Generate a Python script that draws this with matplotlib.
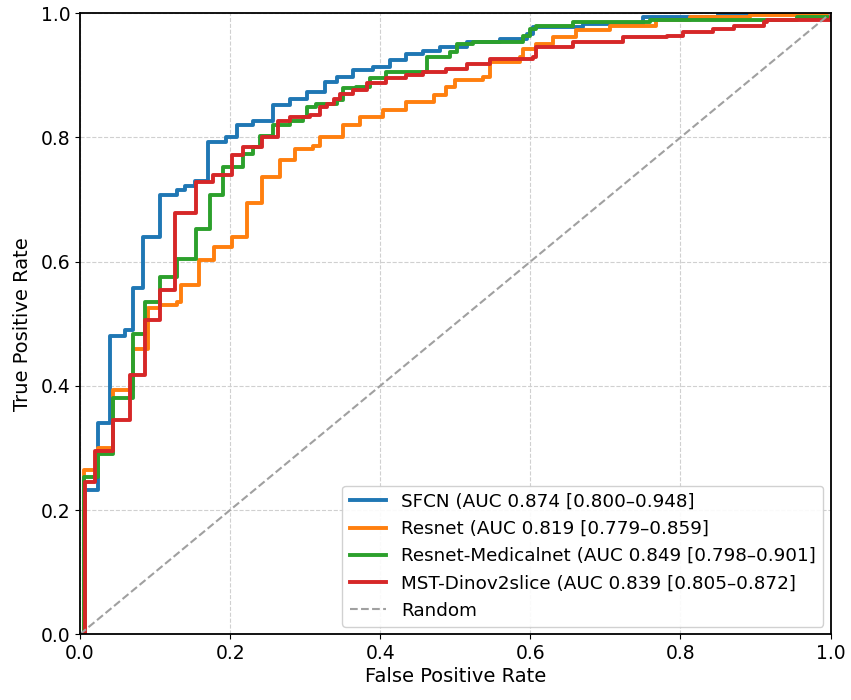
import matplotlib
matplotlib.use("Agg")
import matplotlib.pyplot as plt

sfcn_fpr = [0.0, 0.007, 0.024, 0.04, 0.06, 0.071, 0.084, 0.107, 0.129, 0.14, 0.153, 0.171, 0.195, 0.209, 0.231, 0.257, 0.28, 0.302, 0.326, 0.342, 0.364, 0.39, 0.413, 0.435, 0.457, 0.48, 0.515, 0.559, 0.595, 0.604, 0.67, 0.75, 0.85, 1.0]
sfcn_tpr = [0.0, 0.232, 0.34, 0.48, 0.49, 0.557, 0.64, 0.707, 0.715, 0.722, 0.73, 0.793, 0.80, 0.82, 0.827, 0.852, 0.862, 0.873, 0.889, 0.897, 0.908, 0.913, 0.924, 0.935, 0.94, 0.946, 0.954, 0.959, 0.967, 0.978, 0.982, 0.994, 0.999, 1.0]

resnet_fpr = [0.0, 0.005, 0.024, 0.044, 0.071, 0.091, 0.107, 0.129, 0.135, 0.158, 0.178, 0.202, 0.222, 0.242, 0.266, 0.286, 0.31, 0.32, 0.35, 0.373, 0.404, 0.435, 0.471, 0.488, 0.5, 0.537, 0.546, 0.586, 0.59, 0.608, 0.63, 0.661, 0.706, 0.768, 0.813, 0.893, 1.0]
resnet_tpr = [0.0, 0.265, 0.30, 0.393, 0.46, 0.525, 0.53, 0.535, 0.562, 0.603, 0.624, 0.64, 0.694, 0.737, 0.763, 0.782, 0.787, 0.80, 0.82, 0.833, 0.844, 0.857, 0.869, 0.881, 0.892, 0.897, 0.922, 0.93, 0.943, 0.951, 0.962, 0.973, 0.98, 0.989, 0.994, 0.997, 1.0]

medical_fpr = [0.0, 0.005, 0.024, 0.044, 0.071, 0.087, 0.107, 0.129, 0.155, 0.173, 0.191, 0.217, 0.231, 0.24, 0.257, 0.28, 0.297, 0.302, 0.315, 0.342, 0.35, 0.368, 0.386, 0.408, 0.462, 0.493, 0.502, 0.524, 0.59, 0.6, 0.608, 0.657, 0.76, 0.955, 1.0]
medical_tpr = [0.0, 0.253, 0.29, 0.38, 0.484, 0.535, 0.575, 0.605, 0.653, 0.707, 0.752, 0.774, 0.785, 0.803, 0.82, 0.827, 0.833, 0.849, 0.854, 0.86, 0.879, 0.881, 0.895, 0.906, 0.93, 0.938, 0.951, 0.954, 0.964, 0.975, 0.98, 0.986, 0.99, 0.994, 1.0]

dino_fpr = [0.0, 0.007, 0.02, 0.044, 0.067, 0.087, 0.107, 0.127, 0.155, 0.177, 0.202, 0.217, 0.242, 0.264, 0.28, 0.306, 0.32, 0.329, 0.338, 0.346, 0.364, 0.382, 0.408, 0.435, 0.457, 0.488, 0.515, 0.546, 0.604, 0.608, 0.657, 0.724, 0.782, 0.804, 0.844, 0.871, 0.911, 0.915, 1.0]
dino_tpr = [0.0, 0.245, 0.295, 0.345, 0.417, 0.506, 0.554, 0.678, 0.728, 0.739, 0.771, 0.785, 0.80, 0.827, 0.833, 0.836, 0.849, 0.854, 0.862, 0.87, 0.876, 0.887, 0.895, 0.90, 0.906, 0.911, 0.919, 0.927, 0.93, 0.946, 0.954, 0.962, 0.964, 0.97, 0.975, 0.98, 0.986, 0.99, 1.0]

labels = [
    "SFCN (AUC 0.874 [0.800\u20130.948]",
    "Resnet (AUC 0.819 [0.779\u20130.859]",
    "Resnet-Medicalnet (AUC 0.849 [0.798\u20130.901]",
    "MST-Dinov2slice (AUC 0.839 [0.805\u20130.872]",
]
colors = ["#1f77b4", "#ff7f0e", "#2ca02c", "#d62728"]
series = [(sfcn_fpr, sfcn_tpr), (resnet_fpr, resnet_tpr), (medical_fpr, medical_tpr), (dino_fpr, dino_tpr)]

fig = plt.figure(figsize=(8.51, 7.0), dpi=100)
ax = fig.add_axes([0.094, 0.094, 0.882, 0.887])

for (f, t), lab, c in zip(series, labels, colors):
    ax.plot(f, t, drawstyle="steps-post", color=c, lw=2.8, label=lab)

ax.plot([0, 1], [0, 1], linestyle="--", color="#a0a0a0", lw=1.5, label="Random")

ax.set_xlim(0, 1)
ax.set_ylim(0, 1)
ax.grid(True, linestyle="--", color="#d0d0d0", lw=0.8)
ax.set_axisbelow(True)
ax.tick_params(labelsize=13.5)
ax.set_xlabel("False Positive Rate", fontsize=14, labelpad=3)
ax.set_ylabel("True Positive Rate", fontsize=14, labelpad=6)
for s in ax.spines.values():
    s.set_linewidth(1.3)
ax.legend(loc="lower right", fontsize=13.2, framealpha=0.9, handlelength=2.0,
          borderaxespad=0.4)

fig.savefig("out.png", dpi=100)
